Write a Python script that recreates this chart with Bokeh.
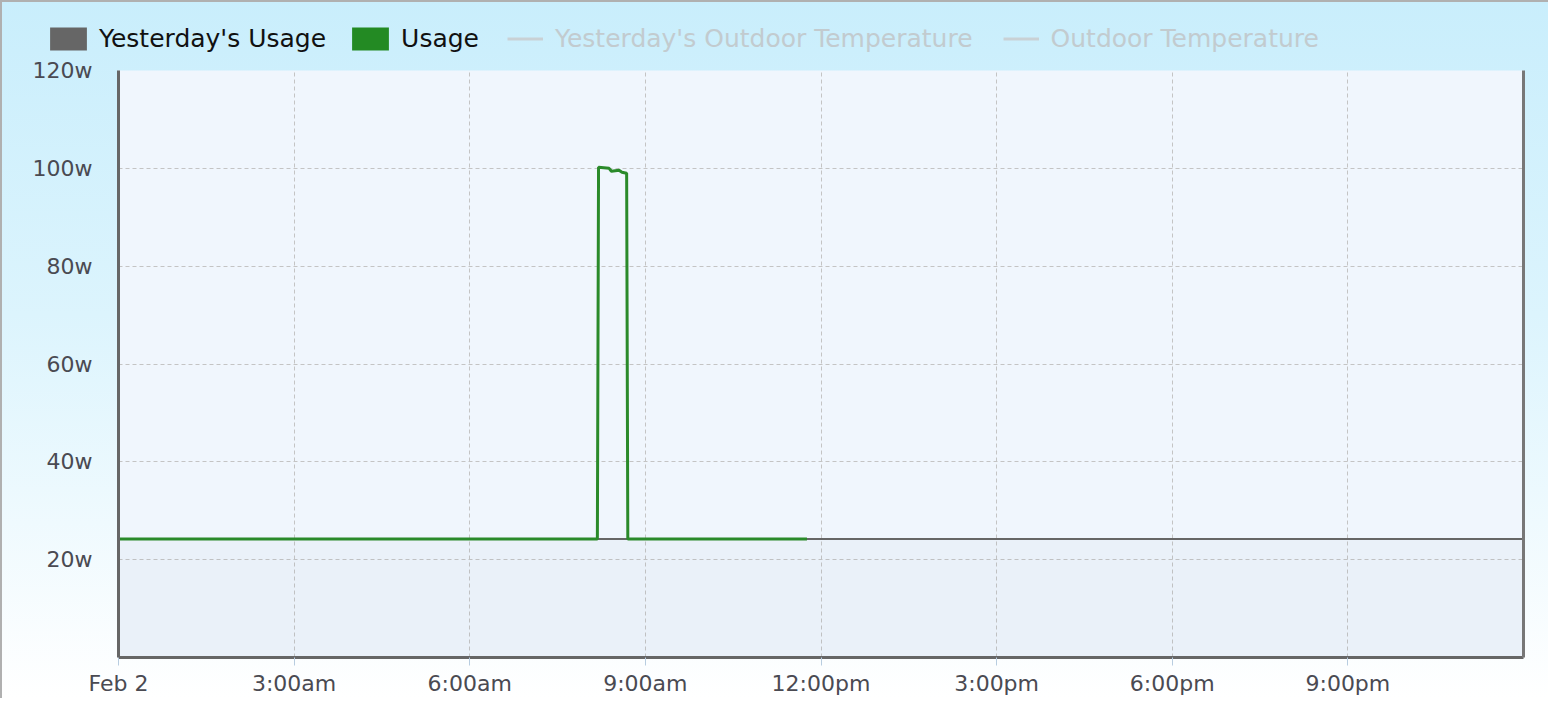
from bokeh.plotting import figure
from bokeh.layouts import column
from bokeh.models import Range1d, FixedTicker, Legend, LegendItem, LinearAxis
from bokeh.embed import file_html
from bokeh.resources import INLINE

# ---- data ----
tick_hours = [0, 3, 6, 9, 12, 15, 18, 21]
tick_labels = ["Feb 2", "3:00am", "6:00am", "9:00am", "12:00pm", "3:00pm", "6:00pm", "9:00pm"]
y_ticks = [20, 40, 60, 80, 100, 120]
y_tick_labels = ["20w", "40w", "60w", "80w", "100w", "120w"]

yesterday_hours = [0, 24]
yesterday_watts = [24.2, 24.2]

usage_hours = [0, 8.18, 8.20, 8.38, 8.42, 8.55, 8.60, 8.68, 8.70, 11.76]
usage_watts = [24.2, 24.2, 100.2, 100.0, 99.4, 99.6, 99.2, 99.0, 24.2, 24.2]

series_names = ["Yesterday's Usage", "Usage", "Yesterday's Outdoor Temperature", "Outdoor Temperature"]
series_colors = ["#666666", "#238a23", "#c9d1d5", "#c9d1d5"]

FONT = "DejaVu Sans"
W = 1548

# ---------- legend strip ----------
lg = figure(width=W, height=56, output_backend="svg", toolbar_location=None,
            x_range=Range1d(0, 1), y_range=Range1d(0, 1),
            x_axis_type=None, y_axis_type=None, frame_align=False,
            min_border_left=0, min_border_right=0, min_border_top=0, min_border_bottom=0)
lg.grid.visible = False
lg.outline_line_color = None
lg.background_fill_alpha = 0
lg.border_fill_alpha = 0

# legend-only swatches (a single point each: nothing is drawn in the strip)
sw_yest = lg.varea(x=[0], y1=[0], y2=[0], fill_color=series_colors[0])
sw_use = lg.varea(x=[0], y1=[0], y2=[0], fill_color=series_colors[1])
sw_t1 = lg.line(x=[0], y=[0], line_color=series_colors[2], line_width=3)
sw_t2 = lg.line(x=[0], y=[0], line_color=series_colors[3], line_width=3)

common = dict(orientation="horizontal", padding=0, margin=0,
              glyph_height=29, label_height=29,
              label_text_font=FONT, label_text_font_size="25px",
              background_fill_alpha=0, border_line_color=None)
leg1 = Legend(items=[LegendItem(label=series_names[0], renderers=[sw_yest]),
                     LegendItem(label=series_names[1], renderers=[sw_use])],
              location=(45, 3), spacing=21, glyph_width=46, label_standoff=8,
              label_text_color="#111111", **common)
leg2 = Legend(items=[LegendItem(label=series_names[2], renderers=[sw_t1]),
                     LegendItem(label=series_names[3], renderers=[sw_t2])],
              location=(507, 3), spacing=30, glyph_width=36, label_standoff=12,
              label_text_color="#c2cbcf", **common)
lg.add_layout(leg1)
lg.add_layout(leg2)

# ---------- main chart ----------
p = figure(width=W, height=642, output_backend="svg", toolbar_location=None,
           x_range=Range1d(0, 24), y_range=Range1d(0, 120), frame_align=False,
           min_border_left=118, min_border_right=25, min_border_top=14, min_border_bottom=40)
p.border_fill_alpha = 0
p.background_fill_color = "#f0f6fd"
p.outline_line_color = None

# yesterday's usage: area + line
p.varea(x=yesterday_hours, y1=[0] * len(yesterday_hours), y2=yesterday_watts,
        fill_color="#6a7a90", fill_alpha=0.04)
p.line(x=yesterday_hours, y=yesterday_watts, line_color=series_colors[0], line_width=2)
# today's usage
p.line(x=usage_hours, y=usage_watts, line_color="#2a8a2a", line_width=3)

# axes
p.xaxis.ticker = FixedTicker(ticks=tick_hours)
p.xaxis.major_label_overrides = dict(zip(tick_hours, tick_labels))
p.yaxis.ticker = FixedTicker(ticks=y_ticks)
p.yaxis.major_label_overrides = dict(zip(y_ticks, y_tick_labels))
for ax in (p.xaxis[0], p.yaxis[0]):
    ax.axis_line_color = "#666666"
    ax.axis_line_width = 3
    ax.minor_tick_line_color = None
    ax.major_label_text_font = FONT
    ax.major_label_text_font_size = "22px"
    ax.major_label_text_color = "#4a4a52"
p.xaxis.major_tick_line_color = "#b8cde0"
p.xaxis.major_tick_out = 8
p.xaxis.major_tick_in = 0
p.xaxis.major_label_standoff = 5
p.yaxis.major_tick_line_color = None
p.yaxis.major_label_standoff = 20

right = LinearAxis(axis_line_color="#777777", axis_line_width=3,
                   major_tick_line_color=None, minor_tick_line_color=None,
                   major_label_text_color=None, ticker=FixedTicker(ticks=[]))
p.add_layout(right, "right")

p.grid.grid_line_color = "#c4c4c4"
p.grid.grid_line_dash = "4 3"
p.grid.grid_line_width = 1

page = column(lg, p, spacing=0,
              styles={"background-image": "linear-gradient(to bottom, #c9eefc 0%, #dcf4fd 45%, #ffffff 100%)",
                      "box-shadow": "inset 2px 2px 0 #b0b0b0"})

open("out.html", "w").write(file_html(page, INLINE))
